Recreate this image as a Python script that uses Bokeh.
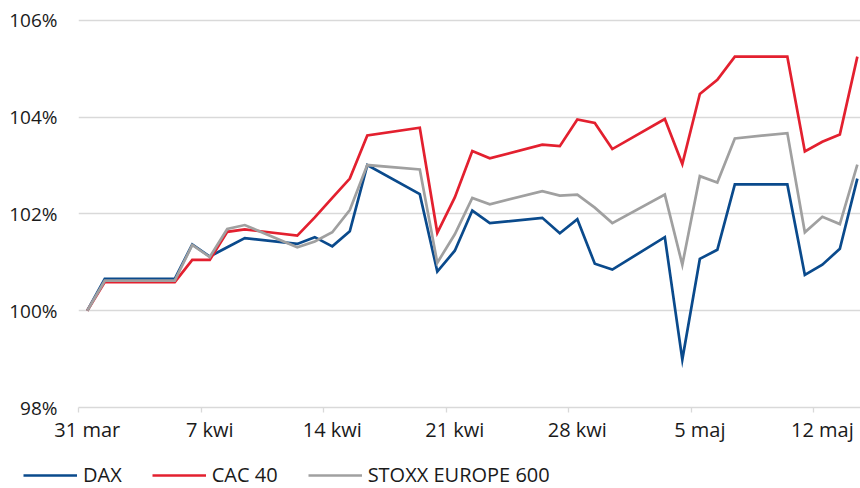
import pandas as pd
from bokeh.plotting import figure
from bokeh.models import ColumnDataSource, FixedTicker, PrintfTickFormatter, Legend, LegendItem
from bokeh.embed import file_html
from bokeh.resources import INLINE

# ---- data ----
dates = ["2021-03-31", "2021-04-01", "2021-04-05", "2021-04-06", "2021-04-07", "2021-04-08",
         "2021-04-09", "2021-04-12", "2021-04-13", "2021-04-14", "2021-04-15", "2021-04-16",
         "2021-04-19", "2021-04-20", "2021-04-21", "2021-04-22", "2021-04-23", "2021-04-26",
         "2021-04-27", "2021-04-28", "2021-04-29", "2021-04-30", "2021-05-03", "2021-05-04",
         "2021-05-05", "2021-05-06", "2021-05-07", "2021-05-10", "2021-05-11", "2021-05-12",
         "2021-05-13", "2021-05-14"]

dax = [100.00, 100.66, 100.66, 101.37, 101.12, 101.31, 101.50, 101.38, 101.52, 101.33,
       101.64, 103.01, 102.41, 100.81, 101.24, 102.07, 101.81, 101.92, 101.60, 101.89,
       100.97, 100.85, 101.52, 98.99, 101.07, 101.26, 102.61, 102.61, 100.74, 100.95,
       101.28, 102.73]

cac40 = [100.00, 100.59, 100.59, 101.05, 101.05, 101.63, 101.68, 101.55, 101.93, 102.33,
         102.73, 103.62, 103.78, 101.61, 102.34, 103.30, 103.15, 103.43, 103.40, 103.95,
         103.88, 103.34, 103.96, 103.03, 104.48, 104.77, 105.25, 105.25, 103.29, 103.49,
         103.64, 105.25]

stoxx600 = [100.00, 100.62, 100.62, 101.36, 101.11, 101.69, 101.77, 101.31, 101.43, 101.62,
            102.08, 103.01, 102.92, 100.99, 101.58, 102.33, 102.20, 102.47, 102.38, 102.40,
            102.13, 101.81, 102.40, 100.95, 102.78, 102.65, 103.56, 103.67, 101.62, 101.94,
            101.79, 103.02]

series_names = ["DAX", "CAC 40", "STOXX EUROPE 600"]
series_colors = ["#0a4a8c", "#e3202f", "#a0a0a0"]

x_tick_dates = ["2021-03-31", "2021-04-07", "2021-04-14", "2021-04-21", "2021-04-28",
                "2021-05-05", "2021-05-12"]
x_tick_labels = ["31 mar", "7 kwi", "14 kwi", "21 kwi", "28 kwi", "5 maj", "12 maj"]
y_ticks = [98, 100, 102, 104, 106]

# ---- day offsets ----
start = pd.Timestamp(dates[0])
day = [(pd.Timestamp(d) - start).days for d in dates]
tick_pos = [(pd.Timestamp(d) - start).days for d in x_tick_dates]

FONT = "Open Sans"

p = figure(width=860, height=460, output_backend="svg", toolbar_location=None,
           x_range=(-0.5, 44.18), y_range=(98, 106.1),
           min_border_left=78, min_border_right=0, min_border_top=15, min_border_bottom=53)
p.outline_line_color = None
p.background_fill_color = "white"

src = ColumnDataSource(dict(x=day, dax=dax, cac=cac40, stoxx=stoxx600))
for col, color in zip(["dax", "cac", "stoxx"], series_colors):
    p.line("x", col, source=src, line_color=color, line_width=2.7, line_join="miter")

# x axis
p.xaxis.ticker = FixedTicker(ticks=tick_pos, minor_ticks=[t - 0.5 for t in tick_pos])
p.xaxis.major_label_overrides = {t: lab for t, lab in zip(tick_pos, x_tick_labels)}
p.xaxis.axis_line_color = "#d9d9d9"
p.xaxis.axis_line_width = 1.3
p.xaxis.major_tick_line_color = None
p.xaxis.major_tick_out = 0
p.xaxis.major_tick_in = 0
p.xaxis.minor_tick_line_color = "#d9d9d9"
p.xaxis.minor_tick_line_width = 1.3
p.xaxis.minor_tick_out = 5
p.xaxis.minor_tick_in = 0
p.xaxis.major_label_standoff = 3
p.xaxis.major_label_text_font = FONT
p.xaxis.major_label_text_font_size = "20px"
p.xaxis.major_label_text_color = "#1a1a1a"
p.xgrid.visible = False

# y axis
p.yaxis.ticker = FixedTicker(ticks=y_ticks)
p.yaxis.formatter = PrintfTickFormatter(format="%d%%")
p.yaxis.axis_line_color = None
p.yaxis.major_tick_line_color = None
p.yaxis.minor_tick_line_color = None
p.yaxis.major_label_standoff = 15
p.yaxis.major_label_text_font = FONT
p.yaxis.major_label_text_font_size = "19px"
p.yaxis.major_label_text_color = "#1a1a1a"
p.ygrid.ticker = FixedTicker(ticks=y_ticks[1:])
p.ygrid.grid_line_color = "#d9d9d9"
p.ygrid.grid_line_width = 1.3

# legend strip (its lines sit outside the visible range; only the legend shows)
lg = figure(width=860, height=28, output_backend="svg", toolbar_location=None,
            x_axis_type=None, y_axis_type=None, x_range=(0, 1), y_range=(0, 1),
            min_border=0, min_border_left=0, min_border_right=0,
            min_border_top=0, min_border_bottom=0)
lg.outline_line_color = None
lg.grid.visible = False
leg_renderers = []
for col, color in zip(["dax", "cac", "stoxx"], series_colors):
    leg_renderers.append(lg.line("x", col, source=src, line_color=color, line_width=2.7))

legend = Legend(items=[LegendItem(label=n, renderers=[r]) for n, r in zip(series_names, leg_renderers)],
                orientation="horizontal", location=(23, 0),
                glyph_width=54, glyph_height=20, label_height=20, label_standoff=6,
                spacing=30, padding=0, margin=0,
                label_text_font=FONT, label_text_font_size="20px", label_text_color="#1a1a1a",
                border_line_color=None, background_fill_alpha=0)
lg.add_layout(legend, "center")

open("out.html", "w").write(file_html([p, lg], INLINE))
